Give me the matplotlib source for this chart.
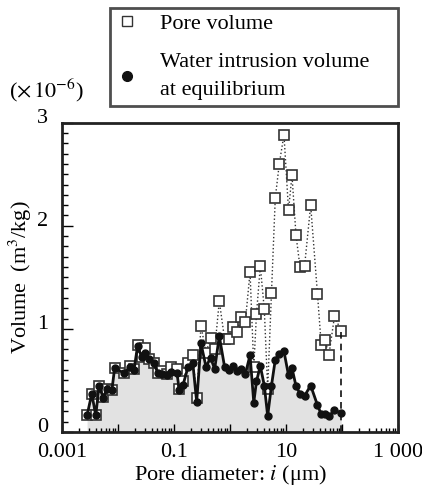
import numpy as np
import matplotlib
matplotlib.use("Agg")
import matplotlib.pyplot as plt
from matplotlib.lines import Line2D
from matplotlib.ticker import LogLocator, FixedLocator, NullFormatter, MultipleLocator

plt.rcParams['font.family'] = ['Liberation Serif', 'DejaVu Serif']
plt.rcParams['mathtext.fontset'] = 'stix'

# pore diameter (um)
diameter = [0.0028, 0.0034, 0.0040, 0.0046, 0.0054, 0.0064, 0.0078, 0.0087,
            0.0128, 0.0166, 0.0193, 0.0223, 0.0263, 0.0307, 0.0365, 0.0434,
            0.0518, 0.0618, 0.075, 0.090, 0.113, 0.124, 0.145, 0.178,
            0.217, 0.254, 0.303, 0.373, 0.449, 0.533, 0.644, 0.801,
            0.944, 1.12, 1.32, 1.59, 1.88, 2.28, 2.66, 2.97,
            3.48, 4.10, 4.71, 5.51, 6.44, 7.59, 9.21, 11.1,
            12.8, 15.1, 17.8, 21.5, 27.6, 36.5, 42.7, 49.7,
            58.6, 73.5, 97.0]

# pore volume (x1e-6 m3/kg)
pore_vol = [0.16, 0.37, 0.16, 0.45, 0.34, 0.42, 0.41, 0.62,
            0.57, 0.64, 0.61, 0.84, 0.73, 0.81, 0.71, 0.67,
            0.57, 0.59, 0.56, 0.63, 0.61, 0.42, 0.49, 0.67,
            0.745, 0.33, 1.03, 0.77, 0.91, 0.80, 1.27, 0.90,
            0.90, 1.02, 0.965, 1.11, 1.07, 1.55, 0.63, 1.14,
            1.61, 1.19, 0.42, 1.35, 2.27, 2.60, 2.885, 2.15,
            2.49, 1.91, 1.60, 1.61, 2.20, 1.34, 0.84, 0.89,
            0.75, 1.12, 0.98]

# water intrusion volume at equilibrium (x1e-6 m3/kg)
water_vol = [0.16, 0.37, 0.16, 0.45, 0.33, 0.42, 0.41, 0.62,
             0.57, 0.63, 0.60, 0.83, 0.73, 0.77, 0.71, 0.665,
             0.57, 0.56, 0.55, 0.58, 0.57, 0.41, 0.455, 0.63,
             0.665, 0.29, 0.86, 0.63, 0.72, 0.61, 0.93, 0.63,
             0.60, 0.64, 0.59, 0.61, 0.56, 0.745, 0.285, 0.49,
             0.64, 0.45, 0.155, 0.45, 0.70, 0.755, 0.78, 0.55,
             0.62, 0.445, 0.37, 0.35, 0.45, 0.26, 0.17, 0.17,
             0.15, 0.21, 0.18]

xtick_vals = [0.001, 0.01, 0.1, 1, 10, 100, 1000]
xtick_text = ["0.001", "", "0.1", "", "10", "", "1 000"]
ytick_vals = [0, 1, 2, 3]

FS = 16

fig = plt.figure(figsize=(4.22, 4.93), dpi=100)
ax = fig.add_axes([0.147, 0.124, 0.796, 0.627])

ax.fill_between(diameter, water_vol, 0, color='#e2e2e2', linewidth=0, zorder=1)
ax.plot(diameter, pore_vol, linestyle=':', color='#333333', linewidth=1.0,
        marker='s', markersize=6.5, markerfacecolor='white',
        markeredgecolor='#333333', markeredgewidth=1.2, zorder=2)
ax.plot(diameter, water_vol, linestyle='-', color='#111111', linewidth=2.0,
        marker='o', markersize=5, markerfacecolor='#111111',
        markeredgecolor='#111111', zorder=3)
ax.plot([diameter[-1], diameter[-1]], [0, pore_vol[-1]], linestyle=(0, (4, 3)),
        color='#111111', linewidth=1.2, zorder=2)

ax.set_xscale('log')
ax.set_xlim(0.001, 1000)
ax.set_ylim(0, 3)

ax.xaxis.set_major_locator(FixedLocator(xtick_vals))
ax.set_xticklabels(xtick_text)
ax.xaxis.set_minor_locator(LogLocator(base=10, subs=np.arange(2, 10), numticks=20))
ax.xaxis.set_minor_formatter(NullFormatter())

ax.set_yticks(ytick_vals)
ax.yaxis.set_minor_locator(MultipleLocator(0.1))

ax.tick_params(axis='both', which='both', direction='in', top=False, right=False,
               labelsize=FS, width=1.0)
ax.tick_params(axis='x', which='major', length=6, pad=8)
ax.tick_params(axis='x', which='minor', length=3)
ax.tick_params(axis='y', which='major', length=8, pad=10)
ax.tick_params(axis='y', which='minor', length=4)
for lab in ax.get_yticklabels():
    lab.set_verticalalignment('baseline')

for sp in ax.spines.values():
    sp.set_linewidth(2.0)
    sp.set_color('#222222')

ax.set_xlabel(r"Pore diameter: $i$ (μm)", fontsize=FS, labelpad=1)
ax.set_ylabel(r"Volume  (m$^3$/kg)", fontsize=FS, labelpad=2)

fig.text(0.022, 0.817, r"($\times\,10^{-6}$)", fontsize=FS, va='center', ha='left')

handles = [
    Line2D([], [], linestyle='none', marker='s', markersize=7,
           markerfacecolor='white', markeredgecolor='#333333', markeredgewidth=1.0),
    Line2D([], [], linestyle='none', marker='o', markersize=7,
           markerfacecolor='#111111', markeredgecolor='#111111'),
]
labels = ["Pore volume", "Water intrusion volume\nat equilibrium"]
leg = fig.legend(handles, labels, loc='upper left', mode='expand',
                 bbox_to_anchor=(0.261, 0.777, 0.682, 0.207),
                 fontsize=FS, frameon=True, fancybox=False, borderaxespad=0,
                 handlelength=1.0, handletextpad=1.0, labelspacing=0.85,
                 borderpad=0.25)
leg.get_frame().set_edgecolor('#222222')
leg.get_frame().set_linewidth(2.0)
for t in leg.get_texts():
    t.set_linespacing(1.65)

fig.savefig("out.png", dpi=100)
